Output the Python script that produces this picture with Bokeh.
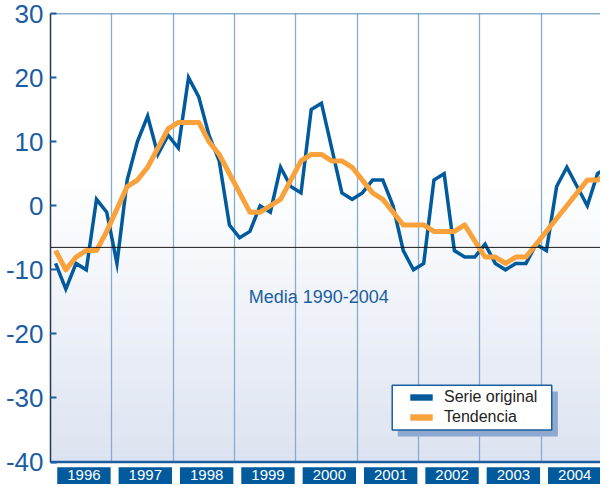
from bokeh.plotting import figure
from bokeh.models import (Range1d, FixedTicker, Span, Label, BoxAnnotation,
                          Legend, LegendItem, Grid, ColumnDataSource)
from bokeh.core.properties import value
from bokeh.embed import file_html
from bokeh.resources import INLINE

# ---------------- data ----------------
years = [1996, 1997, 1998, 1999, 2000, 2001, 2002, 2003, 2004]
periods_per_year = 6
serie_original = [-9, -13, -9, -10, 1, -1, -9, 4, 10, 14, 8, 11, 9,
                  20, 17, 11, 7, -3, -5, -4, 0, -1, 6, 3, 2,
                  15, 16, 9, 2, 1, 2, 4, 4, 0, -7, -10,
                  -9, 4, 5, -7, -8, -8, -6, -9, -10, -9, -9, -6,
                  -7, 3, 6, 3, 0, 5, 6]
tendencia = [-7, -10, -8, -7, -7, -4, -0.5, 3, 4, 6, 9, 12, 13,
             13, 13, 10, 8, 5, 2, -1, -1, 0, 1, 4, 7,
             8, 8, 7, 7, 6, 4, 2, 1, -1, -3, -3,
             -3, -4, -4, -4, -3, -5.5, -8, -8, -9, -8, -8, -6,
             -4, -2, 0, 2, 4, 4, 5]
media_1990_2004 = -6.5
y_ticks = [30, 20, 10, 0, -10, -20, -30, -40]
series_names = ["Serie original", "Tendencia"]
media_label = "Media 1990-2004"

# ---------------- styles ----------------
BLUE = "#005a9c"
ORANGE = "#f9a13a"
TXT_BLUE = "#1b5e9f"
FONT = "Liberation Sans"
Y_MIN, Y_MAX = y_ticks[-1], y_ticks[0]

t = [years[0] + (i + 0.5) / periods_per_year for i in range(len(serie_original))]
src = ColumnDataSource(dict(t=t, serie=serie_original, tend=tendencia))

p = figure(width=600, height=484,
           x_range=Range1d(1996, 2004.965), y_range=Range1d(-43.5, Y_MAX),
           output_backend="svg", toolbar_location=None,
           x_axis_location=None,
           min_border_left=50, min_border_right=0,
           min_border_top=13, min_border_bottom=0)
p.outline_line_color = None
p.background_fill_color = "white"
p.border_fill_color = "white"
p.grid.visible = False

# background gradient (white -> light blue-grey toward the bottom)
top_c = (255, 255, 255)
bot_c = (220, 227, 240)
g_top, g_bot = 4.0, float(Y_MIN)
nb = 44
for k in range(nb):
    f = (k + 0.5) / nb
    c = tuple(int(round(top_c[j] + (bot_c[j] - top_c[j]) * f)) for j in range(3))
    hi = g_top + (g_bot - g_top) * k / nb
    lo = g_top + (g_bot - g_top) * (k + 1) / nb
    p.add_layout(BoxAnnotation(top=hi + 0.08, bottom=lo, fill_color="#%02x%02x%02x" % c,
                               fill_alpha=1, line_alpha=0, level="image"))

# vertical year grid lines
vg = Grid(dimension=0, ticker=FixedTicker(ticks=years[1:]),
          grid_line_color="#86acd0", grid_line_width=1.3)
p.add_layout(vg)
# white strip under the frame (where the year boxes sit)
p.add_layout(BoxAnnotation(top=Y_MIN, fill_color="white", fill_alpha=1,
                           line_alpha=0, level="underlay"))

# y axis
ax = p.yaxis[0]
ax.ticker = FixedTicker(ticks=y_ticks)
ax.bounds = (Y_MIN, Y_MAX)
ax.major_label_overrides = {v: str(v) for v in y_ticks}
ax.axis_line_color = "#23395b"
ax.axis_line_width = 1.5
ax.major_tick_in = 6
ax.major_tick_out = 0
ax.major_tick_line_color = TXT_BLUE
ax.major_tick_line_width = 2
ax.minor_tick_line_color = None
ax.major_label_text_font = FONT
ax.major_label_text_font_size = "26px"
ax.major_label_text_color = TXT_BLUE
ax.major_label_standoff = 7

# frame top / bottom lines
p.add_layout(Span(location=Y_MAX, dimension="width", line_color=TXT_BLUE, line_width=1.5))
p.add_layout(Span(location=Y_MIN, dimension="width", line_color=TXT_BLUE, line_width=2.5))

# mean line
p.add_layout(Span(location=media_1990_2004, dimension="width", line_color="#1a1a1a", line_width=1))
p.add_layout(Label(x=1999.23, y=-14.2, text=media_label, text_font=FONT,
                   text_font_size="18px", text_color=TXT_BLUE, text_baseline="middle"))

# series
p.line("t", "serie", source=src, line_color=BLUE, line_width=3.5, line_join="miter")
p.line("t", "tend", source=src, line_color=ORANGE, line_width=5, line_join="round")

# year labels in blue boxes
ysrc = ColumnDataSource(dict(left=[y + 0.11 for y in years], right=[y + 0.98 for y in years],
                             xc=[y + 0.545 for y in years], lab=[str(y) for y in years]))
p.quad(left="left", right="right", top=-40.8, bottom=-44.0, source=ysrc,
       fill_color=BLUE, line_color=None)
p.text(x="xc", y=-42.05, text="lab", source=ysrc, text_align="center",
       text_baseline="middle", text_color="white",
       text_font=value(FONT), text_font_size=value("15px"))

# legend box + shadow
p.add_layout(BoxAnnotation(left=2001.66, right=2004.27, top=-29.0, bottom=-36.0,
                           fill_color="#8fa8cf", fill_alpha=1, line_alpha=0))
p.add_layout(BoxAnnotation(left=2001.57, right=2004.17, top=-28.0, bottom=-35.0,
                           fill_color="white", fill_alpha=1, line_color=TXT_BLUE,
                           line_width=1.5, line_alpha=1))

nan = float("nan")
leg_src = ColumnDataSource(dict(x=[nan], y=[nan]))
r1 = p.rect("x", "y", width=1, height=1, source=leg_src, fill_color=BLUE, line_color=None)
r2 = p.rect("x", "y", width=1, height=1, source=leg_src, fill_color=ORANGE, line_color=None)
legend = Legend(items=[LegendItem(label=series_names[0], renderers=[r1]),
                       LegendItem(label=series_names[1], renderers=[r2])],
                location=(357, 57), orientation="vertical",
                glyph_width=28, glyph_height=8, label_height=20, label_standoff=9,
                spacing=0, padding=0, margin=0,
                background_fill_alpha=0, border_line_alpha=0,
                label_text_font=FONT, label_text_font_size="16px",
                label_text_color="#222222")
p.add_layout(legend)

open("out.html", "w").write(file_html(p, INLINE))
